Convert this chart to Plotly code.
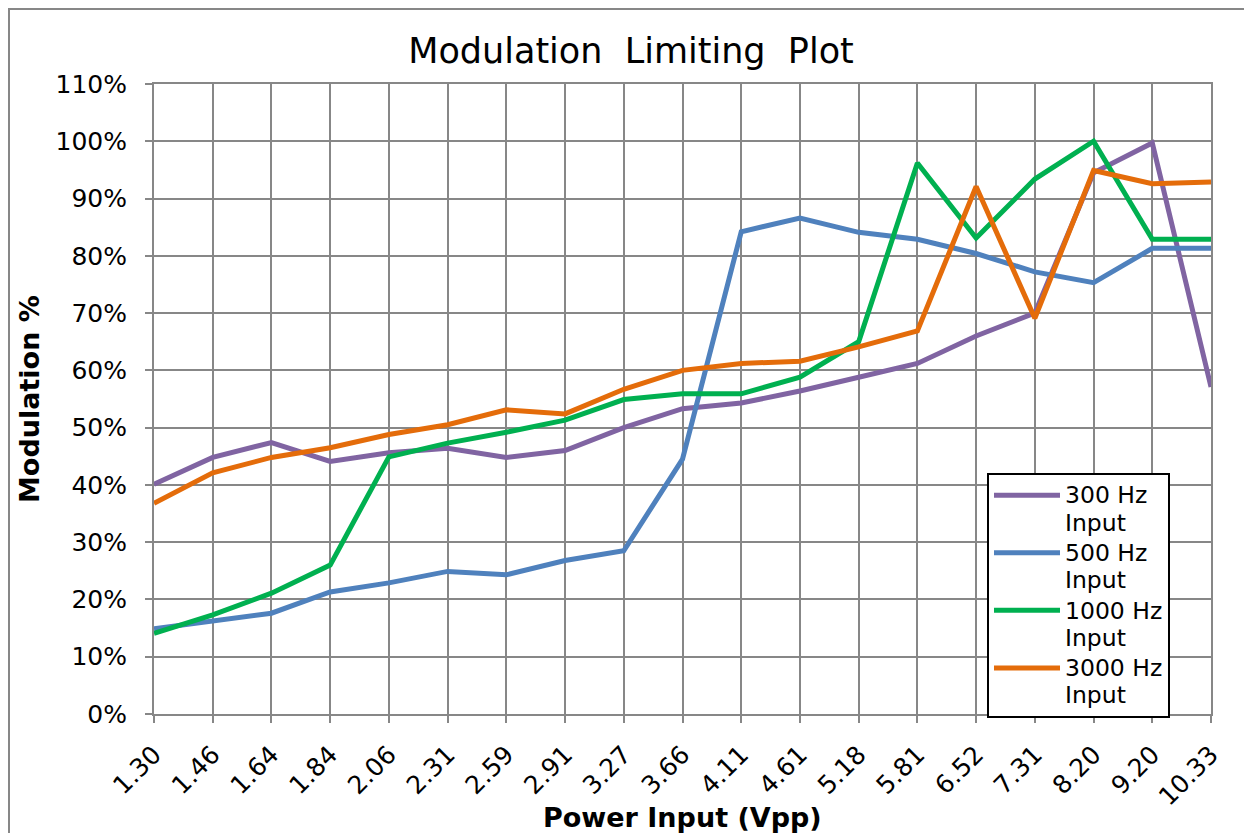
import plotly.graph_objects as go

categories = ["1.30", "1.46", "1.64", "1.84", "2.06", "2.31", "2.59", "2.91", "3.27", "3.66",
              "4.11", "4.61", "5.18", "5.81", "6.52", "7.31", "8.20", "9.20", "10.33"]

hz300 = [40.1, 44.8, 47.4, 44.1, 45.6, 46.4, 44.8, 46.0, 50.0, 53.3,
         54.3, 56.4, 58.8, 61.2, 66.0, 70.0, 94.5, 99.7, 57.1]
hz500 = [14.9, 16.3, 17.6, 21.3, 22.9, 24.9, 24.3, 26.8, 28.5, 44.5,
         84.2, 86.6, 84.1, 82.9, 80.4, 77.2, 75.3, 81.3, 81.3]
hz1000 = [14.1, 17.3, 21.1, 26.0, 44.9, 47.3, 49.2, 51.3, 54.9, 55.9,
          55.9, 58.8, 65.0, 96.2, 83.1, 93.4, 100.0, 82.9, 82.9]
hz3000 = [36.8, 42.1, 44.8, 46.5, 48.8, 50.5, 53.1, 52.4, 56.7, 60.0,
          61.2, 61.6, 64.1, 66.9, 92.1, 69.1, 94.9, 92.6, 92.9]

series_labels = [("300 Hz", "Input"), ("500 Hz", "Input"), ("1000 Hz", "Input"), ("3000 Hz", "Input")]
series_values = [hz300, hz500, hz1000, hz3000]
series_colors = ["#8064A2", "#4F81BD", "#00B050", "#E46C0A"]

FONT = "DejaVu Sans"
GRID = "#878787"
LEG_SPAN = '<span style="font-size:23.5px">{}</span>'

fig = go.Figure()
for (l1, l2), vals, col in zip(series_labels, series_values, series_colors):
    name = LEG_SPAN.format(l1) + "<br>" + LEG_SPAN.format(l2)
    fig.add_trace(go.Scatter(
        x=categories, y=[v / 100 for v in vals], name=name, mode="lines",
        line=dict(color=col, width=5)
    ))

# page body adds an 8px offset; margins compensate
fig.update_layout(
    width=1252, height=833,
    margin=dict(l=146, r=49, t=76, b=127),
    paper_bgcolor="white", plot_bgcolor="white",
    font=dict(family=FONT, size=25, color="black"),
    title=dict(text="Modulation&nbsp; Limiting&nbsp; Plot", x=(631 - 8) / 1252, xanchor="center",
               y=1 - (51 - 8) / 833, yanchor="middle", yref="container",
               font=dict(family=FONT, size=35, color="black")),
    showlegend=True,
    legend=dict(x=(987 - 154) / 1057, y=(714 - 473) / 630, xanchor="left", yanchor="top",
                bgcolor="white", bordercolor="black", borderwidth=2,
                font=dict(family=FONT, size=21, color="black"),
                valign="top", tracegroupgap=0, itemwidth=66),
)

fig.update_xaxes(
    type="category", range=[0, 18], tickangle=-45,
    showgrid=True, gridcolor=GRID, gridwidth=2,
    showline=True, linecolor=GRID, linewidth=2, mirror=True,
    ticks="outside", ticklen=7, tickcolor=GRID, tickwidth=2,
    tickfont=dict(family=FONT, size=25, color="black"),
    ticklabelstandoff=7,
    title=None,
)
fig.update_yaxes(
    range=[0, 1.1], dtick=0.1, tickformat=".0%",
    showgrid=True, gridcolor=GRID, gridwidth=2,
    showline=True, linecolor=GRID, linewidth=2, mirror=True,
    ticks="outside", ticklen=7, tickcolor=GRID, tickwidth=2,
    tickfont=dict(family=FONT, size=25, color="black"),
    ticklabelstandoff=13,
    zeroline=False,
    title=None,
)

fig.add_annotation(text="<b>Power Input (Vpp)</b>", xref="paper", yref="paper",
                   x=0.5, y=-(817 - 714) / 630, xanchor="center", yanchor="middle",
                   showarrow=False, font=dict(family=FONT, size=27, color="black"))
fig.add_annotation(text="<b>Modulation %</b>", xref="paper", yref="paper",
                   x=(29 - 154) / 1057, y=(714 - 399) / 630, xanchor="center", yanchor="middle",
                   textangle=-90, showarrow=False, font=dict(family=FONT, size=27, color="black"))

fig.add_shape(type="rect", xref="paper", yref="paper",
              x0=(1 - 146) / 1057, x1=1.2, y0=-0.4, y1=(706 - 1) / 630,
              line=dict(color=GRID, width=2), fillcolor="rgba(0,0,0,0)", layer="below")

fig.write_html("out.html")
